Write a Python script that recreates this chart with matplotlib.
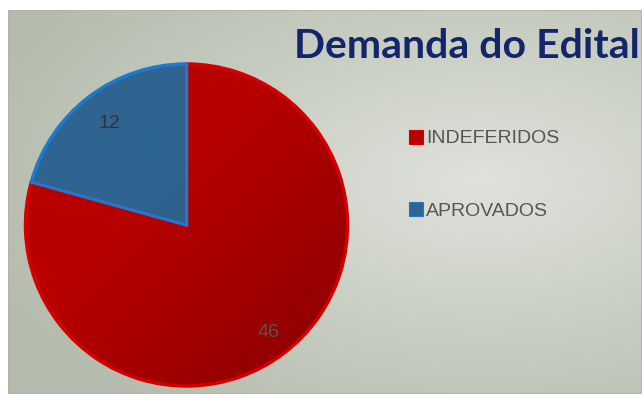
import numpy as np
import matplotlib.pyplot as plt
from matplotlib.patches import Patch, Rectangle

# dados do grafico
categorias = ['INDEFERIDOS', 'APROVADOS']
valores = [46, 12]
cores = ['#b80000', '#2f6490']
bordas = ['#d40000', '#1e7ad0']
titulo = 'Demanda do Edital'

W, H = 642, 394
fig = plt.figure(figsize=(W / 100, H / 100), dpi=100)
fig.patch.set_facecolor('white')

# fundo com gradiente radial
bg = fig.add_axes([8 / W, 0, (W - 8) / W, (H - 10) / H])
yy, xx = np.mgrid[0:1:300j, 0:1:500j]
d = np.sqrt(((xx - 0.75) / 1.0) ** 2 + ((yy - 0.55) / 0.9) ** 2)
d = np.clip(d / 0.85, 0, 1)
c0 = np.array([0xdf, 0xe2, 0xdb]) / 255
c1 = np.array([0xb4, 0xbb, 0xac]) / 255
img = c0[None, None, :] * (1 - d[..., None]) + c1[None, None, :] * d[..., None]
bg.imshow(img, aspect='auto', extent=[0, 1, 0, 1], origin='lower')
bg.set_xlim(0, 1)
bg.set_ylim(0, 1)
bg.axis('off')
bg.add_patch(Rectangle((0, 0), 1, 1, transform=bg.transAxes, fill=False,
                       edgecolor='#b0b0b0', lw=1.2))

# pizza
r = 161
cx, cy = 186.5, H - 225
ax = fig.add_axes([(cx - r) / W, (cy - r) / H, 2 * r / W, 2 * r / H])
wedges, textos = ax.pie(valores, colors=cores, startangle=90, counterclock=False,
                        radius=1, labels=[str(v) for v in valores],
                        labeldistance=0.79,
                        wedgeprops=dict(linewidth=2.5),
                        textprops=dict(fontsize=14, color='#444444',
                                       family=['Liberation Sans', 'DejaVu Sans']))
ax.axis('off')
ax.set_aspect('auto')

# sombreado leve nas fatias
gy, gx = np.mgrid[-1:1:200j, -1:1:200j]
sombra = np.clip((gx - gy) / 2.0 + 0.2, 0, 1)
for w, cor, borda in zip(wedges, cores, bordas):
    w.set_edgecolor(borda)
    base = np.array(plt.matplotlib.colors.to_rgb(cor))
    escuro = base * 0.78
    g = base[None, None, :] * (1 - sombra[..., None]) + escuro[None, None, :] * sombra[..., None]
    im = ax.imshow(g, extent=[-1, 1, -1, 1], origin='lower', zorder=w.get_zorder() + 0.1)
    im.set_clip_path(w)
for w in wedges:
    w.set_zorder(w.get_zorder() + 0.2)
    w.set_facecolor('none')
for t in textos:
    t.set_zorder(10)
    t.set_ha('center')
    t.set_va('center')
    t.set_color('#555555')
textos[1].set_color('#333333')
# o rotulo maior fica um pouco mais para fora
px, py = textos[0].get_position()
textos[0].set_position((px * 0.84 / 0.79, py * 0.84 / 0.79))
ax.set_xlim(-1, 1)
ax.set_ylim(-1, 1)

# titulo
fig.text(W - 2, H - 46, titulo, transform=None, fontsize=29.5, fontweight='bold',
         color='#14266a', va='center', ha='right',
         family=['Lato', 'DejaVu Sans'])

# legenda
handles = [Patch(facecolor=c, edgecolor=b, lw=0.8) for c, b in zip(cores, bordas)]
fig.legend(handles, categorias, loc='upper left',
           bbox_to_anchor=(391 / W, (H - 112) / H), frameon=False,
           labelcolor='#555555', handlelength=0.75, handleheight=0.75,
           handletextpad=0.15, labelspacing=2.8,
           prop=dict(family=['Liberation Sans', 'DejaVu Sans'], size=14))

fig.savefig('out.png', dpi=100)
